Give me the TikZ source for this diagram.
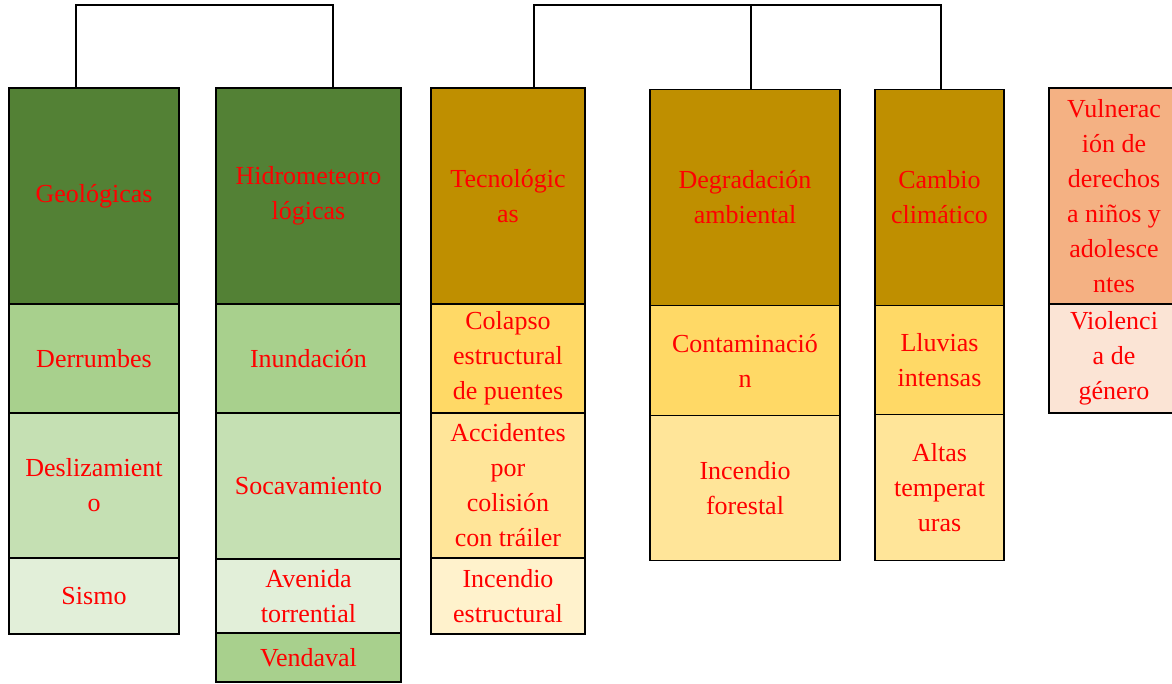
\documentclass[tikz,border=0pt]{standalone}
\usepackage{fontspec}
\setmainfont{Liberation Serif}
\usetikzlibrary{positioning}
\definecolor{grdark}{HTML}{538135}
\definecolor{grmid}{HTML}{A8D08D}
\definecolor{grlight}{HTML}{C5E0B3}
\definecolor{grpale}{HTML}{E2EFD9}
\definecolor{gddark}{HTML}{BF8F00}
\definecolor{gdmid}{HTML}{FFD966}
\definecolor{gdlight}{HTML}{FFE599}
\definecolor{gdpale}{HTML}{FFF2CC}
\definecolor{sadark}{HTML}{F4B183}
\definecolor{sapale}{HTML}{FBE4D5}
\tikzset{
cell/.style = {draw, rectangle, align = center, text=red, inner sep=1pt, outer sep=0pt, line width=1.6pt, font=\fontsize{26}{35}\selectfont},
head/.style = {cell, minimum height=216pt},
link/.style = {draw, line width=1.6pt},
colA/.style = {minimum width=170pt},
colB/.style = {minimum width=185pt},
colC/.style = {minimum width=154pt},
colD/.style = {minimum width=190pt},
colE/.style = {minimum width=129pt},
colF/.style = {minimum width=130pt}
}
\begin{document}
\begin{tikzpicture}[x=1pt, y=-1pt]
    \useasboundingbox (0,0) rectangle (1172,684);

    % natural threats
    \node[head, colA, fill=grdark] (geo) at (94,196) {Geológicas};
    \node[cell, colA, fill=grmid, minimum height=109pt, below=0pt of geo] (derr) {Derrumbes};
    \node[cell, colA, fill=grlight, minimum height=145pt, below=0pt of derr] (desl) {Deslizamient\\o};
    \node[cell, colA, fill=grpale, minimum height=76pt, below=0pt of desl] (sism) {Sismo};

    \node[head, colB, fill=grdark] (hidro) at (308.5,196) {Hidrometeoro\\lógicas};
    \node[cell, colB, fill=grmid, minimum height=109pt, below=0pt of hidro] (inun) {Inundación};
    \node[cell, colB, fill=grlight, minimum height=146pt, below=0pt of inun] (soca) {Socavamiento};
    \node[cell, colB, fill=grpale, minimum height=74pt, below=0pt of soca] (aven) {Avenida\\torrential};
    \node[cell, colB, fill=grmid, minimum height=49pt, below=0pt of aven] (vend) {Vendaval};

    % human threats
    \node[head, colC, fill=gddark] (tec) at (508,196) {Tecnológic\\as};
    \node[cell, colC, fill=gdmid, minimum height=109pt, below=0pt of tec] (cola) {Colapso\\estructural\\de puentes};
    \node[cell, colC, fill=gdlight, minimum height=145pt, below=0pt of cola] (acci) {Accidentes\\por\\colisión\\con tráiler};
    \node[cell, colC, fill=gdpale, minimum height=76pt, below=0pt of acci] (ince) {Incendio\\estructural};

    \node[head, colD, fill=gddark] (degr) at (745,197.5) {Degradación\\ambiental};
    \node[cell, colD, fill=gdmid, minimum height=110pt, below=0pt of degr] (cont) {Contaminació\\n};
    \node[cell, colD, fill=gdlight, minimum height=145pt, below=0pt of cont] (inco) {Incendio\\forestal};

    \node[head, colE, fill=gddark] (camb) at (939.5,197.5) {Cambio\\climático};
    \node[cell, colE, fill=gdmid, minimum height=109pt, below=0pt of camb] (lluv) {Lluvias\\intensas};
    \node[cell, colE, fill=gdlight, minimum height=146pt, below=0pt of lluv] (alta) {Altas\\temperat\\uras};

    % social threats
    \node[head, colF, fill=sadark] (vuln) at (1114,196) {Vulnerac\\ión de\\derechos\\a niños y\\adolesce\\ntes};
    \node[cell, colF, fill=sapale, minimum height=109pt, below=0pt of vuln] (viol) {Violenci\\a de\\género};

    % brackets
    \coordinate (j1) at (76,5);
    \coordinate (j2) at (333,5);
    \coordinate (j3) at (534,5);
    \coordinate (j4) at (941,5);
    \coordinate (j5) at (751,5);
    \draw[link] (geo.north -| j1) -- (j1) -- (j2) -- (hidro.north -| j2);
    \draw[link] (tec.north -| j3) -- (j3) -- (j4) -- (camb.north -| j4);
    \draw[link] (j5) -- (degr.north -| j5);
\end{tikzpicture}
\end{document}
